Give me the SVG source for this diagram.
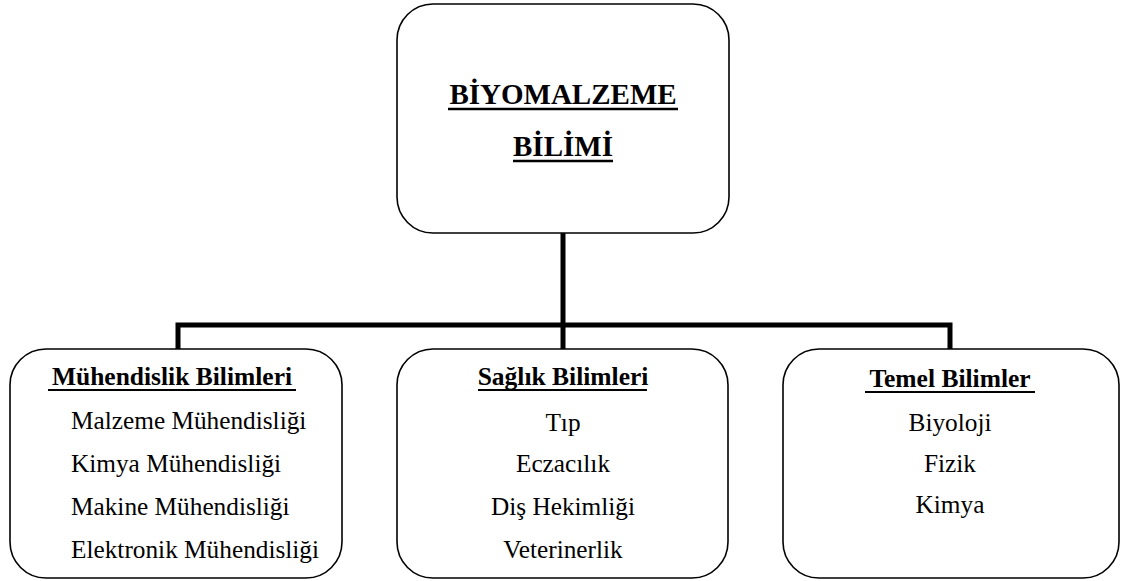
<svg xmlns="http://www.w3.org/2000/svg" width="1122" height="581" viewBox="0 0 1122 581">
<style>
.box{fill:#fff;stroke:#000;stroke-width:1.6}
.conn{fill:none;stroke:#000;stroke-width:5}
.ul{stroke:#000;stroke-width:2}
.ult{stroke:#000;stroke-width:2.6}
</style>
<rect width="1122" height="581" fill="#fff"/>
<g id="connectors">
<path class="conn" d="M563 233 V325"/>
<path class="conn" d="M178 349 V325 H950 V349"/>
<path class="conn" d="M563 325 V349"/>
</g>
<g id="root">
<rect class="box" x="397" y="4" width="332" height="229" rx="36"/>
<text font-family="Times New Roman, Liberation Serif, serif" font-size="29" font-weight="bold" text-anchor="middle" x="563" y="104">BİYOMALZEME</text>
<line class="ult" x1="448" y1="109" x2="678" y2="109"/>
<text font-family="Times New Roman, Liberation Serif, serif" font-size="29" font-weight="bold" text-anchor="middle" x="563" y="156">BİLİMİ</text>
<line class="ult" x1="513" y1="161" x2="613" y2="161"/>
</g>
<g id="muhendislik">
<rect class="box" x="10" y="349" width="332" height="229" rx="36"/>
<text font-family="Times New Roman, Liberation Serif, serif" font-size="25.5" font-weight="bold" text-anchor="middle" x="172" y="385">Mühendislik Bilimleri</text>
<line class="ul" x1="48" y1="390" x2="296" y2="390"/>
<text font-family="Times New Roman, Liberation Serif, serif" font-size="25.3" x="71" y="429">Malzeme Mühendisliği</text>
<text font-family="Times New Roman, Liberation Serif, serif" font-size="25.3" x="71" y="472">Kimya Mühendisliği</text>
<text font-family="Times New Roman, Liberation Serif, serif" font-size="25.3" x="71" y="515">Makine Mühendisliği</text>
<text font-family="Times New Roman, Liberation Serif, serif" font-size="25.3" x="71" y="558">Elektronik Mühendisliği</text>
</g>
<g id="saglik">
<rect class="box" x="397" y="349" width="331" height="229" rx="36"/>
<text font-family="Times New Roman, Liberation Serif, serif" font-size="25.5" font-weight="bold" text-anchor="middle" x="563" y="385">Sağlık Bilimleri</text>
<line class="ul" x1="478" y1="390" x2="647" y2="390"/>
<text font-family="Times New Roman, Liberation Serif, serif" font-size="25.3" text-anchor="middle" x="563" y="431">Tıp</text>
<text font-family="Times New Roman, Liberation Serif, serif" font-size="25.3" text-anchor="middle" x="563" y="472">Eczacılık</text>
<text font-family="Times New Roman, Liberation Serif, serif" font-size="25.3" text-anchor="middle" x="563" y="515">Diş Hekimliği</text>
<text font-family="Times New Roman, Liberation Serif, serif" font-size="25.3" text-anchor="middle" x="563" y="558">Veterinerlik</text>
</g>
<g id="temel">
<rect class="box" x="783" y="349" width="336" height="229" rx="36"/>
<text font-family="Times New Roman, Liberation Serif, serif" font-size="25.5" font-weight="bold" text-anchor="middle" x="950" y="387">Temel Bilimler</text>
<line class="ul" x1="865" y1="392" x2="1035" y2="392"/>
<text font-family="Times New Roman, Liberation Serif, serif" font-size="25.3" text-anchor="middle" x="950" y="431">Biyoloji</text>
<text font-family="Times New Roman, Liberation Serif, serif" font-size="25.3" text-anchor="middle" x="950" y="472">Fizik</text>
<text font-family="Times New Roman, Liberation Serif, serif" font-size="25.3" text-anchor="middle" x="950" y="513">Kimya</text>
</g>
</svg>
